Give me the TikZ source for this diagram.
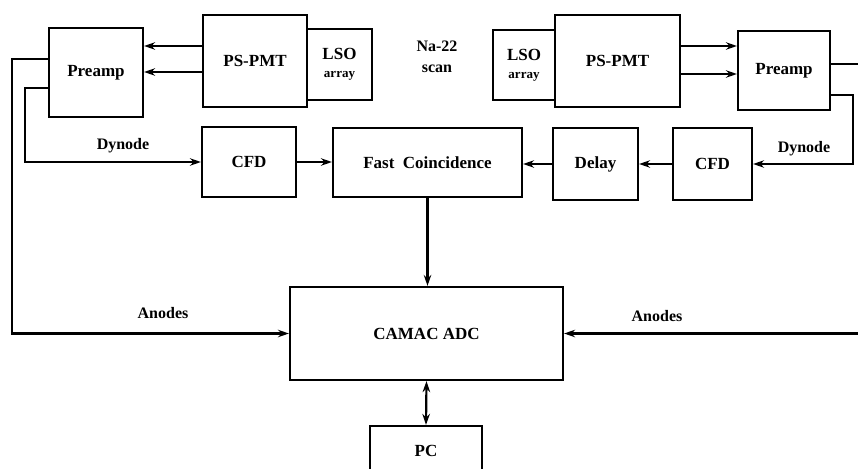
\documentclass[tikz,border=0pt]{standalone}
\usepackage{fontspec}
\setmainfont{Liberation Serif}
\usetikzlibrary{arrows.meta}
\begin{document}
\begin{tikzpicture}[x=1pt,y=-1pt,
  bloque/.style={draw=black, line width=2.2pt, inner sep=0pt, font=\fontsize{17}{18}\selectfont\bfseries},
  linea/.style={line width=2.2pt},
  flecha/.style={line width=2.2pt, -{Stealth[length=11pt,width=7.5pt]}},
  dobleflecha/.style={line width=2.2pt, {Stealth[length=11pt,width=7.5pt]}-{Stealth[length=11pt,width=7.5pt]}},
  etiqueta/.style={font=\fontsize{16}{21}\selectfont\bfseries, align=center}]
\useasboundingbox (0,0) rectangle (858,468);

% Detector izquierdo
\node [bloque, minimum width=94pt, minimum height=89pt] (preampL) at (96,72.5) {Preamp};
\node [bloque, minimum width=104pt, minimum height=92pt] (pmtL) at (255,61) {PS-PMT};
\node [bloque, minimum width=65pt, minimum height=71pt, align=center] (lsoL) at (339.5,64.5) {LSO\\{\fontsize{13}{13}\selectfont array}};

% Fuente
\node [etiqueta] (fuente) at (437,57) {Na-22\\scan};

% Detector derecho
\node [bloque, minimum width=62pt, minimum height=70pt, align=center] (lsoR) at (524,65) {LSO\\{\fontsize{13}{13}\selectfont array}};
\node [bloque, minimum width=125pt, minimum height=92pt] (pmtR) at (617.5,61) {PS-PMT};
\node [bloque, minimum width=92pt, minimum height=79pt] (preampR) at (784,70.5) {Preamp};

% Fila de temporizacion
\node [bloque, minimum width=94pt, minimum height=70pt] (cfdL) at (249,162) {CFD};
\node [bloque, minimum width=189pt, minimum height=69pt] (fastc) at (427.5,162.5) {Fast\enspace Coincidence};
\node [bloque, minimum width=85pt, minimum height=72pt] (delay) at (595.5,164) {Delay};
\node [bloque, minimum width=79pt, minimum height=72pt] (cfdR) at (712.5,164) {CFD};

% Adquisicion
\node [bloque, minimum width=273pt, minimum height=93pt] (camac) at (426.5,333.5) {CAMAC ADC};
\node [bloque, minimum width=112pt, minimum height=50pt] (pc) at (426,451) {PC};

% Puntos de paso
\coordinate (anodoL) at (12,333.5);
\coordinate (dinodoL) at (25,162);
\coordinate (anodoR) at (860,333.5);
\coordinate (dinodoR) at (853,164);

% Senales PS-PMT -> Preamp
\draw [flecha] ([yshift=15pt]pmtL.west) -- ([yshift=15pt]pmtL.west -| preampL.east);
\draw [flecha] ([yshift=-11pt]pmtL.west) -- ([yshift=-11pt]pmtL.west -| preampL.east);
\draw [flecha] ([yshift=15pt]pmtR.east) -- ([yshift=15pt]pmtR.east -| preampR.west);
\draw [flecha] ([yshift=-13pt]pmtR.east) -- ([yshift=-13pt]pmtR.east -| preampR.west);

% Anodos y dinodos
\draw [flecha] ([yshift=13.5pt]preampL.west) -| (anodoL) -- (camac.west);
\draw [flecha] ([yshift=-15.5pt]preampL.west) -| (dinodoL) -- (cfdL.west);
\draw [flecha] ([yshift=6.5pt]preampR.east) -| (anodoR) -- (camac.east);
\draw [flecha] ([yshift=-24.5pt]preampR.east) -| (dinodoR) -- (cfdR.east);
\node [etiqueta] (dynL) at (123,146) {Dynode};
\node [etiqueta] (dynR) at (804,149) {Dynode};
\node [etiqueta] (anL) at (163,313) {Anodes};
\node [etiqueta] (anR) at (657,316) {Anodes};

% Coincidencia
\draw [flecha] (cfdL.east) -- (cfdL.east -| fastc.west);
\draw [flecha] (cfdR.west) -- (delay.east);
\draw [flecha] (delay.west) -- (delay.west -| fastc.east);
\draw [flecha] (fastc.south) -- (fastc.south |- camac.north);
\draw [dobleflecha] (camac.south) -- (pc.north);
\end{tikzpicture}
\end{document}
